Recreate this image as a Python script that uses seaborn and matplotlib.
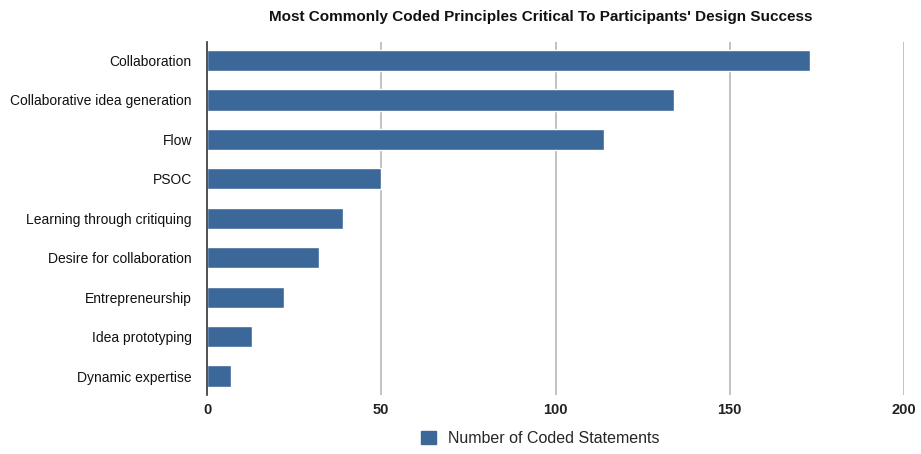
import matplotlib
matplotlib.use("Agg")
import matplotlib.pyplot as plt
import seaborn as sns
import pandas as pd
from matplotlib.patches import Patch

categories = ["Collaboration", "Collaborative idea generation", "Flow", "PSOC",
              "Learning through critiquing", "Desire for collaboration",
              "Entrepreneurship", "Idea prototyping", "Dynamic expertise"]
values = [173, 134, 114, 50, 39, 32, 22, 13, 7]
xticks = [0, 50, 100, 150, 200]
series_name = "Number of Coded Statements"
title = "Most Commonly Coded Principles Critical To Participants' Design Success"

sns.set_theme(style="white")
plt.rcParams['font.family'] = ['Liberation Sans', 'DejaVu Sans']

df = pd.DataFrame({"category": categories, "value": values})

fig = plt.figure(figsize=(9.21, 4.54), dpi=100)
ax = fig.add_axes([0.2248, 0.13, 0.9815 - 0.2248, 0.9075 - 0.13])

color = "#3B6799"
sns.barplot(data=df, x="value", y="category", orient="h", color=color,
            width=0.54, ax=ax, saturation=1)

ax.set_xlim(0, 200)
ax.set_ylim(8.48, -0.47)
ax.set_xticks(xticks)
ax.set_xticklabels([str(t) for t in xticks], fontsize=10.5, fontweight="bold", color="#222222")
for t in xticks[1:]:
    ax.axvline(t, color="#b8b8b8", lw=1.2, zorder=0)
ax.tick_params(axis="y", labelsize=10, colors="#111111", length=0, pad=11)
ax.tick_params(axis="x", length=0, pad=6)
ax.set_xlabel("")
ax.set_ylabel("")
for s in ["top", "right", "bottom"]:
    ax.spines[s].set_visible(False)
ax.spines["left"].set_color("#333333")
ax.spines["left"].set_linewidth(1.2)

fig.text(0.587, 0.962, title, ha="center", va="center", fontsize=11, fontweight="bold", color="#111111")

handles = [Patch(facecolor=color, edgecolor=color, label=series_name)]
fig.legend(handles=handles, loc="center", bbox_to_anchor=(0.587, 0.035), frameon=False,
           fontsize=11.5, handlelength=0.9, handleheight=0.9, handletextpad=0.8)

fig.savefig("out.png", dpi=100)
